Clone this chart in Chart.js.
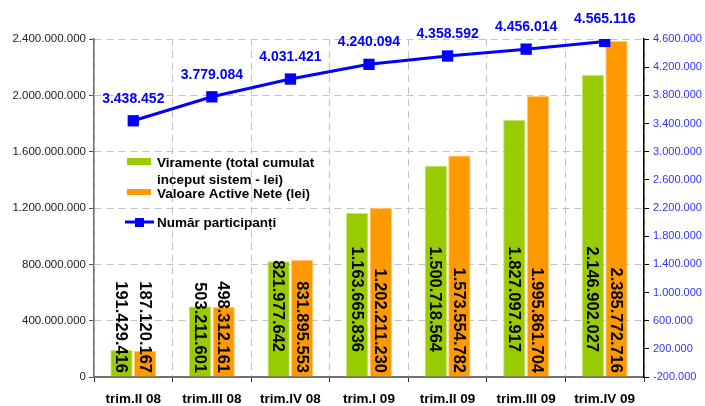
<!DOCTYPE html>
<html>
<head>
<meta charset="utf-8">
<script src="https://cdn.jsdelivr.net/npm/chart.js@4"></script>
<style>
  html, body { margin: 0; padding: 0; background: #fff; }
  #wrap { width: 705px; height: 406px; }
</style>
</head>
<body>
<div id="wrap"><canvas id="fundChart" width="705" height="406"></canvas></div>
<script>
const quarters = ['trim.II 08', 'trim.III 08', 'trim.IV 08', 'trim.I 09', 'trim.II 09', 'trim.III 09', 'trim.IV 09'];
const viramente = [191429416, 503211601, 821977642, 1163665836, 1500718564, 1827097917, 2146902027];
const activeNete = [187120167, 498312161, 831895553, 1202211230, 1573554782, 1995861704, 2385772716];
const participanti = [3438452, 3779084, 4031421, 4240094, 4358592, 4456014, 4565116];

const FONT = "'Liberation Sans', Arial, sans-serif";
const GREEN = '#99CC00';
const ORANGE = '#FF9900';
const BLUE = '#0000FF';

// 1234567 -> 1.234.567
const fmt = (v) => {
  const s = Math.abs(Math.round(v)).toString().replace(/\B(?=(\d{3})+(?!\d))/g, '.');
  return v < 0 ? '-' + s : s;
};

const barLabels = {
  id: 'barLabels',
  afterDatasetsDraw(chart) {
    const ctx = chart.ctx;
    const base = chart.scales.y.getPixelForValue(0);
    ctx.save();
    ctx.font = 'bold 16.5px ' + FONT;
    ctx.fillStyle = '#000';
    ctx.textAlign = 'right';
    ctx.textBaseline = 'middle';
    [0, 1].forEach(di => {
      const meta = chart.getDatasetMeta(di);
      meta.data.forEach((bar, i) => {
        const h = base - bar.y;
        const endY = (di === 0 && h > 100) ? base - 25 : base - 4;
        ctx.save();
        ctx.translate(bar.x, endY);
        ctx.rotate(Math.PI / 2);
        ctx.fillText(fmt(chart.data.datasets[di].data[i]), 0, 1);
        ctx.restore();
      });
    });
    // line values above the points
    const lm = chart.getDatasetMeta(2);
    ctx.font = 'bold 14px ' + FONT;
    ctx.fillStyle = BLUE;
    ctx.textAlign = 'center';
    lm.data.forEach((pt, i) => {
      ctx.fillText(fmt(chart.data.datasets[2].data[i]), pt.x, pt.y - 22);
    });
    ctx.restore();
  }
};

const insideLegend = {
  id: 'insideLegend',
  afterDraw(chart) {
    const ctx = chart.ctx;
    const ds = chart.data.datasets;
    const x0 = chart.chartArea.left + 33;
    const tx = x0 + 30;
    ctx.save();
    ctx.font = 'bold 13.5px ' + FONT;
    ctx.textBaseline = 'alphabetic';
    ctx.textAlign = 'left';

    ctx.fillStyle = ds[0].backgroundColor;
    ctx.fillRect(x0, 158, 24, 7);
    ctx.fillStyle = '#000';
    const lines = ds[0].label.split('\n');
    ctx.fillText(lines[0], tx, 167);
    ctx.fillText(lines[1], tx, 184);

    ctx.fillStyle = ds[1].backgroundColor;
    ctx.fillRect(x0, 189, 24, 6);
    ctx.fillStyle = '#000';
    ctx.fillText(ds[1].label, tx, 198);

    ctx.strokeStyle = BLUE;
    ctx.lineWidth = 3;
    ctx.beginPath();
    ctx.moveTo(x0 - 2, 222);
    ctx.lineTo(x0 + 27, 222);
    ctx.stroke();
    ctx.fillStyle = BLUE;
    ctx.fillRect(x0 + 8, 218, 9, 9);
    ctx.fillStyle = '#000';
    ctx.fillText(ds[2].label, tx, 227);
    ctx.restore();
  }
};

new Chart(document.getElementById('fundChart'), {
  type: 'bar',
  data: {
    labels: quarters,
    datasets: [
      {
        label: 'Viramente (total cumulat\ninceput sistem - lei)',
        data: viramente,
        backgroundColor: GREEN,
        borderColor: '#C8E47A',
        borderWidth: 1,
        borderSkipped: 'bottom',
        yAxisID: 'y',
        order: 1,
        categoryPercentage: 0.6,
        barPercentage: 0.95,
      },
      {
        label: 'Valoare Active Nete (lei)',
        data: activeNete,
        backgroundColor: ORANGE,
        borderColor: '#FFCB80',
        borderWidth: 1,
        borderSkipped: 'bottom',
        yAxisID: 'y',
        order: 1,
        categoryPercentage: 0.6,
        barPercentage: 0.95,
      },
      {
        type: 'line',
        label: 'Număr participanți',
        data: participanti,
        borderColor: BLUE,
        backgroundColor: BLUE,
        borderWidth: 3,
        pointStyle: 'rect',
        pointRadius: 8,
        pointBackgroundColor: BLUE,
        pointBorderWidth: 0,
        tension: 0,
        yAxisID: 'y1',
        order: 0,
      },
    ],
  },
  options: {
    responsive: false,
    animation: false,
    devicePixelRatio: 1,
    layout: { padding: { top: 39, left: 0, right: 0, bottom: 0 } },
    plugins: {
      legend: { display: false },
      tooltip: { enabled: false },
    },
    scales: {
      x: {
        grid: {
          offset: true,
          color: '#C0C0C0',
          tickColor: '#333',
          tickLength: 5,
          lineWidth: 1,
        },
        border: { color: '#707070', width: 2, dash: [7, 5] },
        ticks: { color: '#000', font: { family: FONT, size: 13.5, weight: 'bold' }, padding: 9 },
        afterFit: (s) => { s.height = 29; },
      },
      y: {
        position: 'left',
        min: 0,
        max: 2400000000,
        ticks: {
          stepSize: 400000000,
          color: '#222',
          font: { family: FONT, size: 11.5 },
          padding: 3,
          callback: (v) => fmt(v),
        },
        grid: { color: '#C0C0C0', tickColor: '#555', tickLength: 5 },
        border: { color: '#707070', width: 1.5, dash: [7, 5] },
        afterFit: (s) => { s.width = 94; },
      },
      y1: {
        position: 'right',
        min: -200000,
        max: 4600000,
        ticks: {
          stepSize: 400000,
          color: '#3333FF',
          font: { family: FONT, size: 11 },
          padding: 4,
          callback: (v) => fmt(v),
        },
        grid: { drawOnChartArea: false, tickColor: '#000', tickLength: 5 },
        border: { color: '#000', width: 1.5 },
        afterFit: (s) => { s.width = 61; },
      },
    },
  },
  plugins: [barLabels, insideLegend],
});
</script>
</body>
</html>
